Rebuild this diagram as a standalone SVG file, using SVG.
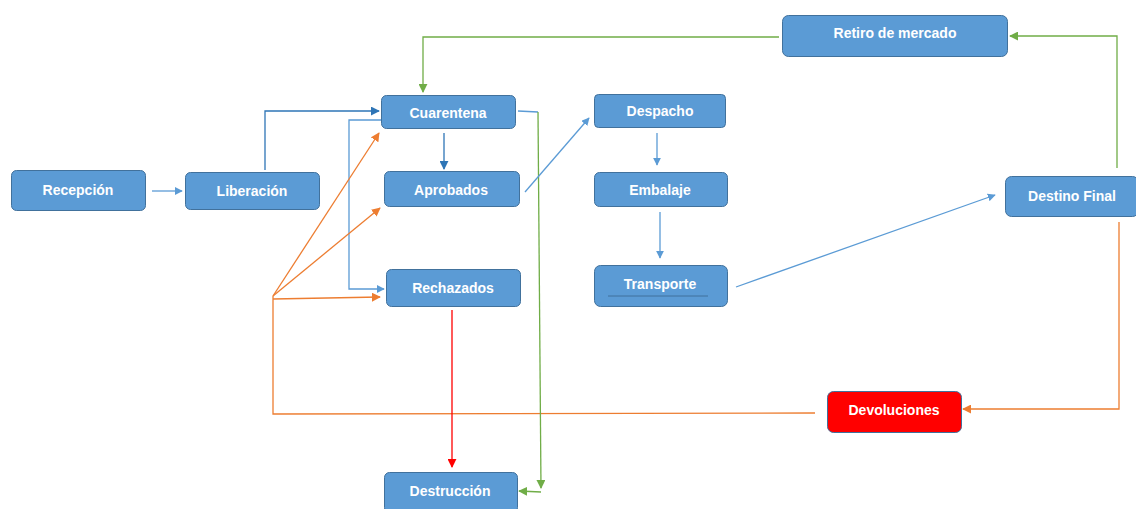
<svg xmlns="http://www.w3.org/2000/svg" width="1136" height="509" viewBox="0 0 1136 509">
<style>
.box{fill:#5B9BD5;stroke:#41719C;stroke-width:1}
.red{fill:#FF0000;stroke:#41719C;stroke-width:1}
.t{font-family:"Liberation Sans",Arial,sans-serif;font-weight:bold;font-size:14px;fill:#FFFFFF;text-anchor:middle;dominant-baseline:central}
.c{fill:none;stroke-width:1.3}
.lb{stroke:#5B9BD5}
.db{stroke:#2E75B6}
.or{stroke:#ED7D31}
.gr{stroke:#70AD47}
.rd{stroke:#FF0000}
</style>
<defs>
<marker id="aLb" viewBox="0 0 10 10" refX="9" refY="5" markerWidth="8" markerHeight="8" markerUnits="userSpaceOnUse" orient="auto"><path d="M0,0L10,5L0,10z" fill="#5B9BD5"/></marker>
<marker id="aDb" viewBox="0 0 10 10" refX="9" refY="5" markerWidth="9" markerHeight="9" markerUnits="userSpaceOnUse" orient="auto"><path d="M0,0L10,5L0,10z" fill="#2E75B6"/></marker>
<marker id="aOr" viewBox="0 0 10 10" refX="9" refY="5" markerWidth="9" markerHeight="9" markerUnits="userSpaceOnUse" orient="auto"><path d="M0,0L10,5L0,10z" fill="#ED7D31"/></marker>
<marker id="aGr" viewBox="0 0 10 10" refX="9" refY="5" markerWidth="9" markerHeight="9" markerUnits="userSpaceOnUse" orient="auto"><path d="M0,0L10,5L0,10z" fill="#70AD47"/></marker>
<marker id="aRd" viewBox="0 0 10 10" refX="9" refY="5" markerWidth="9" markerHeight="9" markerUnits="userSpaceOnUse" orient="auto"><path d="M0,0L10,5L0,10z" fill="#FF0000"/></marker>
</defs>
<rect width="1136" height="509" fill="#FFFFFF"/>
<g id="connectors">
<path class="c lb" d="M152,191H182" marker-end="url(#aLb)"/>
<path class="c db" d="M265,170V111H379" marker-end="url(#aDb)"/>
<path class="c db" d="M444,133V169" marker-end="url(#aDb)"/>
<path class="c lb" d="M381,120H349V289H384" marker-end="url(#aLb)"/>
<path class="c or" d="M273,296L379,133" marker-end="url(#aOr)"/>
<path class="c or" d="M273,296L380,208" marker-end="url(#aOr)"/>
<path class="c or" d="M273,299L380,297" marker-end="url(#aOr)"/>
<path class="c or" d="M815,413L273,414V296"/>
<path class="c rd" d="M452,310V467" marker-end="url(#aRd)"/>
<path class="c lb" d="M518,111L538,112"/>
<path class="c gr" d="M538,112L541,488" marker-end="url(#aGr)"/>
<path class="c gr" d="M541,492L519,491" marker-end="url(#aGr)"/>
<path class="c lb" d="M525,192L589,118" marker-end="url(#aLb)"/>
<path class="c lb" d="M657,133V165" marker-end="url(#aLb)"/>
<path class="c lb" d="M660,212V258" marker-end="url(#aLb)"/>
<path class="c lb" d="M736,287L995,195" marker-end="url(#aLb)"/>
<path class="c gr" d="M1117,168V36H1010" marker-end="url(#aGr)"/>
<path class="c gr" d="M779,37H423V92" marker-end="url(#aGr)"/>
<path class="c or" d="M1119,222V409H963" marker-end="url(#aOr)"/>
</g>
<g id="recepcion"><rect class="box" x="11.5" y="170.5" width="134" height="40" rx="5"/><text class="t" x="78" y="190">Recepción</text></g>
<g id="liberacion"><rect class="box" x="185.5" y="172.5" width="134" height="37" rx="5"/><text class="t" x="252" y="191">Liberación</text></g>
<g id="cuarentena"><rect class="box" x="381.5" y="95.5" width="134" height="33" rx="5"/><text class="t" x="448" y="113">Cuarentena</text></g>
<g id="aprobados"><rect class="box" x="384.5" y="171.5" width="135" height="35" rx="5"/><text class="t" x="451" y="190">Aprobados</text></g>
<g id="rechazados"><rect class="box" x="386.5" y="269.5" width="134" height="37" rx="5"/><text class="t" x="453" y="288">Rechazados</text></g>
<g id="despacho"><rect class="box" x="594.5" y="94.5" width="131" height="33" rx="4"/><text class="t" x="660" y="111">Despacho</text></g>
<g id="embalaje"><rect class="box" x="594.5" y="172.5" width="133" height="34" rx="5"/><text class="t" x="660" y="190">Embalaje</text></g>
<g id="transporte"><rect class="box" x="594.5" y="265.5" width="133" height="41" rx="6"/><text class="t" x="660" y="284">Transporte</text><path d="M608,296H708" stroke="#41719C" stroke-width="1" fill="none"/></g>
<g id="retiro"><rect class="box" x="782.5" y="15.5" width="225" height="41" rx="6"/><text class="t" x="895" y="33">Retiro de mercado</text></g>
<g id="destino"><rect class="box" x="1005.5" y="176.5" width="133" height="40" rx="6"/><text class="t" x="1072" y="196">Destino Final</text></g>
<g id="devoluciones"><rect class="red" x="827.5" y="391.5" width="134" height="41" rx="6"/><text class="t" x="894" y="410">Devoluciones</text></g>
<g id="destruccion"><rect class="box" x="384.5" y="472.5" width="133" height="40" rx="5"/><text class="t" x="450" y="491">Destrucción</text></g>
</svg>
